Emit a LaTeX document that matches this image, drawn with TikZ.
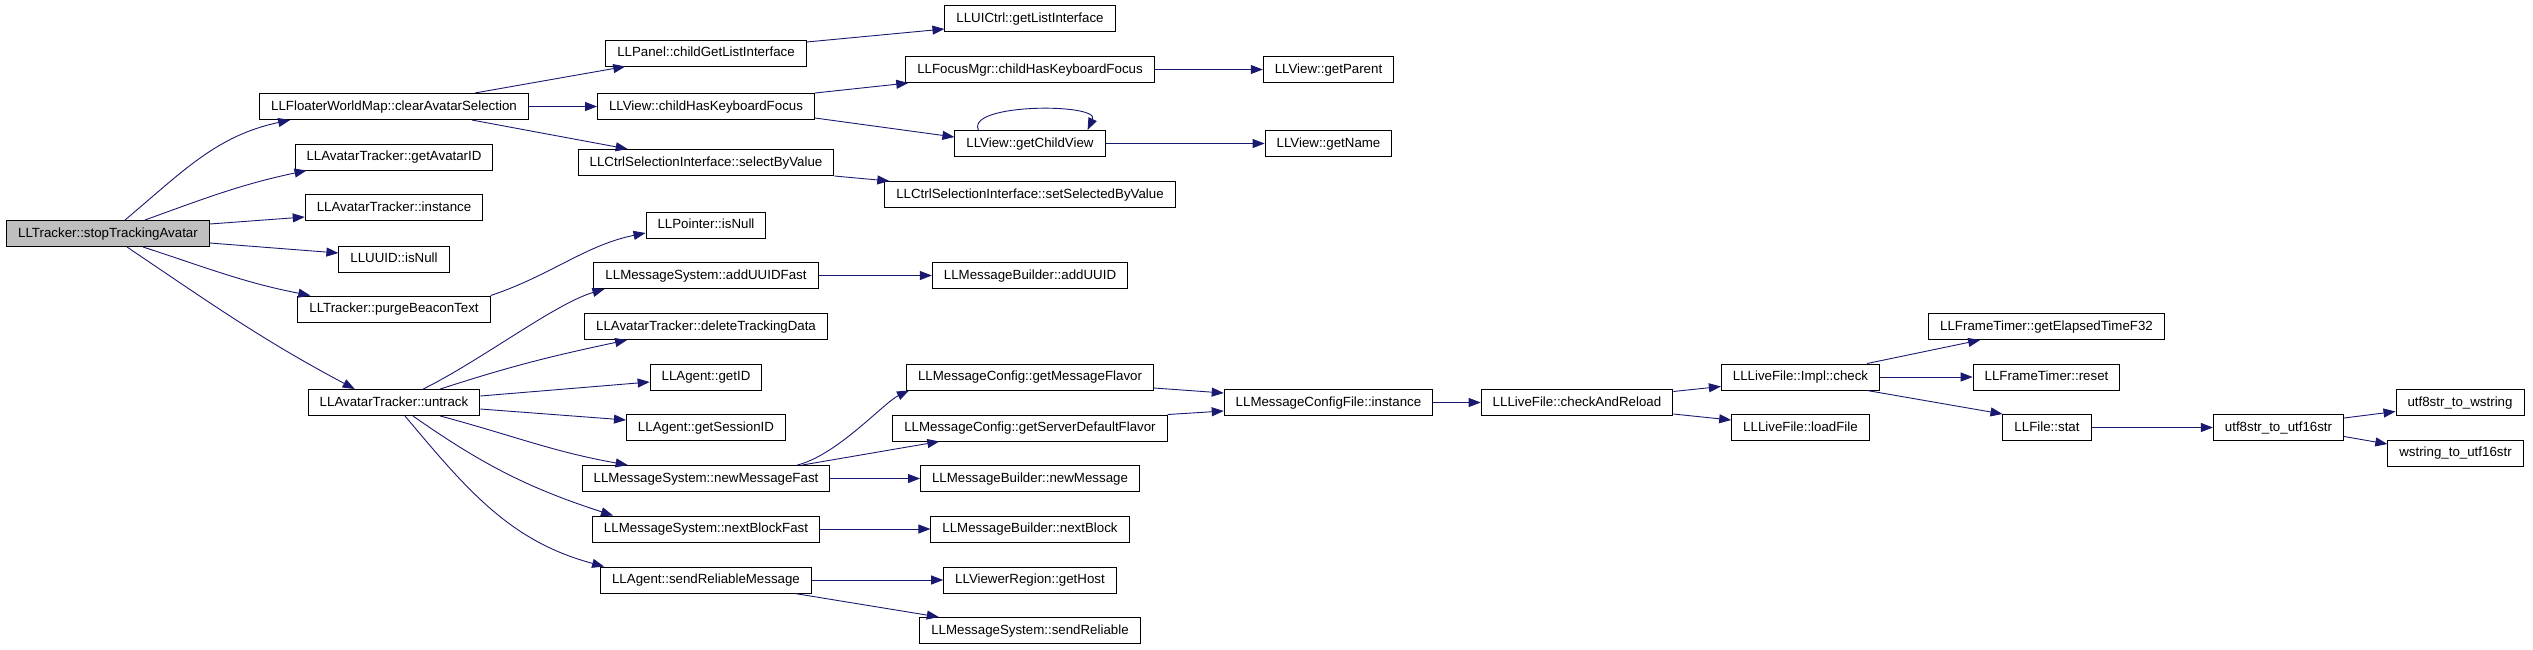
\documentclass[tikz,border=0pt]{standalone}
\usepackage{fontspec}
\setmainfont{Liberation Sans}
\usetikzlibrary{arrows.meta}

\definecolor{edgeblue}{RGB}{25,25,112}
\definecolor{rootgray}{RGB}{191,191,191}

\tikzset{
  funcbox/.style={draw=black,line width=1pt,fill=white,minimum height=26pt,inner xsep=11.5pt,inner ysep=0pt,
    text height=9.6pt,text depth=2.6pt,font=\fontsize{13.3}{15}\selectfont},
  rootbox/.style={funcbox,fill=rootgray},
  callarrow/.style={draw=edgeblue,line width=0.9pt,-{Triangle[length=12pt,width=9pt]}}
}

\begin{document}
\begin{tikzpicture}[x=1pt,y=1pt]
  \useasboundingbox (0,0) rectangle (2533,-649);
  % root
  \node[rootbox] (stop) at (108,-233.5) {LLTracker::stopTrackingAvatar};
  % first column
  \node[funcbox] (clear) at (394,-106.5) {LLFloaterWorldMap::clearAvatarSelection};
  \node[funcbox] (avatarID) at (394,-157) {LLAvatarTracker::getAvatarID};
  \node[funcbox] (avInstance) at (394,-207.5) {LLAvatarTracker::instance};
  \node[funcbox] (uuidNull) at (394,-259) {LLUUID::isNull};
  \node[funcbox] (purge) at (394,-309) {LLTracker::purgeBeaconText};
  \node[funcbox] (untrack) at (394,-402.5) {LLAvatarTracker::untrack};
  % second column
  \node[funcbox] (panelList) at (706,-53) {LLPanel::childGetListInterface};
  \node[funcbox] (viewFocus) at (706,-106.5) {LLView::childHasKeyboardFocus};
  \node[funcbox] (selectValue) at (706,-162.5) {LLCtrlSelectionInterface::selectByValue};
  \node[funcbox] (ptrNull) at (706,-225) {LLPointer::isNull};
  \node[funcbox] (addUUIDFast) at (706,-275.5) {LLMessageSystem::addUUIDFast};
  \node[funcbox] (deleteData) at (706,-326.5) {LLAvatarTracker::deleteTrackingData};
  \node[funcbox] (agentID) at (706,-377) {LLAgent::getID};
  \node[funcbox] (sessionID) at (706,-427.5) {LLAgent::getSessionID};
  \node[funcbox] (newMsgFast) at (706,-478.5) {LLMessageSystem::newMessageFast};
  \node[funcbox] (nextBlockFast) at (706,-529) {LLMessageSystem::nextBlockFast};
  \node[funcbox] (sendRelMsg) at (706,-580) {LLAgent::sendReliableMessage};
  % third column
  \node[funcbox] (listIface) at (1030,-18.5) {LLUICtrl::getListInterface};
  \node[funcbox] (focusMgr) at (1030,-69.5) {LLFocusMgr::childHasKeyboardFocus};
  \node[funcbox] (childView) at (1030,-143.5) {LLView::getChildView};
  \node[funcbox] (setSelected) at (1030,-194.5) {LLCtrlSelectionInterface::setSelectedByValue};
  \node[funcbox] (addUUID) at (1030,-275.5) {LLMessageBuilder::addUUID};
  \node[funcbox] (msgFlavor) at (1030,-377) {LLMessageConfig::getMessageFlavor};
  \node[funcbox] (serverFlavor) at (1030,-428) {LLMessageConfig::getServerDefaultFlavor};
  \node[funcbox] (newMsg) at (1030,-478.5) {LLMessageBuilder::newMessage};
  \node[funcbox] (nextBlock) at (1030,-529) {LLMessageBuilder::nextBlock};
  \node[funcbox] (getHost) at (1030,-580) {LLViewerRegion::getHost};
  \node[funcbox] (sendRel) at (1030,-630.5) {LLMessageSystem::sendReliable};
  % fourth column
  \node[funcbox] (getParent) at (1328.5,-69.5) {LLView::getParent};
  \node[funcbox] (getName) at (1328.5,-143.5) {LLView::getName};
  \node[funcbox] (cfgInstance) at (1328.5,-402.5) {LLMessageConfigFile::instance};
  % live file chain
  \node[funcbox] (checkReload) at (1577,-402.5) {LLLiveFile::checkAndReload};
  \node[funcbox] (implCheck) at (1800.5,-377) {LLLiveFile::Impl::check};
  \node[funcbox] (loadFile) at (1800.5,-427.5) {LLLiveFile::loadFile};
  \node[funcbox] (elapsed) at (2046.5,-326.5) {LLFrameTimer::getElapsedTimeF32};
  \node[funcbox] (timerReset) at (2046.5,-377) {LLFrameTimer::reset};
  \node[funcbox] (fileStat) at (2047,-427.5) {LLFile::stat};
  \node[funcbox] (toUtf16) at (2278.5,-427.5) {utf8str\_to\_utf16str};
  \node[funcbox] (toWstring) at (2460,-402.5) {utf8str\_to\_wstring};
  \node[funcbox] (wstrUtf16) at (2455.5,-453) {wstring\_to\_utf16str};

  % straight calls
  \foreach \a/\b in {clear/viewFocus,focusMgr/getParent,childView/getName,addUUIDFast/addUUID,
      newMsgFast/newMsg,nextBlockFast/nextBlock,sendRelMsg/getHost,cfgInstance/checkReload,
      implCheck/timerReset,fileStat/toUtf16}
    \draw[callarrow] (\a) -- (\b);

  % from the root
  \draw[callarrow] ([xshift=17pt]stop.north) to[out=40,in=192] ([xshift=31pt]clear.south west);
  \draw[callarrow] ([xshift=37pt]stop.north) to[out=20,in=192] ([xshift=12pt]avatarID.south west);
  \draw[callarrow] ([yshift=9.5pt]stop.east) -- ([yshift=-9.5pt]avInstance.west);
  \draw[callarrow] ([yshift=-9.5pt]stop.east) -- ([yshift=6pt]uuidNull.west);
  \draw[callarrow] ([xshift=35pt]stop.south) to[out=-18,in=169] ([xshift=13pt]purge.north west);
  \draw[callarrow] ([xshift=19pt]stop.south) to[out=-34,in=152] ([xshift=47pt]untrack.north west);

  % first column
  \draw[callarrow] ([xshift=-54pt]clear.north east) -- ([xshift=20pt]panelList.south west);
  \draw[callarrow] ([xshift=-57pt]clear.south east) -- ([xshift=50pt]selectValue.north west);
  \draw[callarrow] (purge.north east) .. controls +(60,20) and +(-60,-12) .. ([yshift=-8pt]ptrNull.west);
  \draw[callarrow] ([xshift=-57pt]untrack.north east) .. controls +(60,30) and +(-50,-15) .. ([xshift=11pt]addUUIDFast.south west);
  \draw[callarrow] ([xshift=-40pt]untrack.north east) to[out=18,in=192] ([xshift=43pt]deleteData.south west);
  \draw[callarrow] ([yshift=6.5pt]untrack.east) -- ([yshift=-5pt]agentID.west);
  \draw[callarrow] ([yshift=-6.5pt]untrack.east) -- ([yshift=7.5pt]sessionID.west);
  \draw[callarrow] ([xshift=-40pt]untrack.south east) to[out=-15,in=170] ([xshift=46pt]newMsgFast.north west);
  \draw[callarrow] ([xshift=19pt]untrack.south) to[out=-35,in=162] ([xshift=21pt]nextBlockFast.north west);
  \draw[callarrow] ([xshift=11pt]untrack.south) to[out=-50,in=165] ([xshift=4pt]sendRelMsg.north west);

  % second column
  \draw[callarrow] ([yshift=11pt]panelList.east) -- ([yshift=-10.5pt]listIface.west);
  \draw[callarrow] (viewFocus.north east) -- ([xshift=3pt]focusMgr.south west);
  \draw[callarrow] ([yshift=-11.5pt]viewFocus.east) -- ([yshift=6.5pt]childView.west);
  \draw[callarrow] (selectValue.south east) -- ([xshift=5pt]setSelected.north west);
  \draw[callarrow] ([xshift=24pt]childView.north west) to[out=115,in=65,looseness=0.7] ([xshift=-18pt]childView.north east);
  \draw[callarrow] ([xshift=-33pt]newMsgFast.north east) .. controls +(40,10) and +(-25,-12) .. ([xshift=3pt]msgFlavor.south west);
  \draw[callarrow] ([xshift=-28pt]newMsgFast.north east) -- ([xshift=47pt]serverFlavor.south west);
  \draw[callarrow] ([xshift=-17pt]sendRelMsg.south east) -- ([xshift=19.5pt]sendRel.north west);

  % message config
  \draw[callarrow] ([yshift=-11pt]msgFlavor.east) -- ([yshift=9.5pt]cfgInstance.west);
  \draw[callarrow] (serverFlavor.north east) -- ([yshift=-8.5pt]cfgInstance.west);

  % live file
  \draw[callarrow] ([yshift=11pt]checkReload.east) -- ([yshift=-9.5pt]implCheck.west);
  \draw[callarrow] ([yshift=-11.5pt]checkReload.east) -- ([yshift=7.5pt]loadFile.west);
  \draw[callarrow] ([xshift=-13pt]implCheck.north east) -- ([xshift=52pt]elapsed.south west);
  \draw[callarrow] ([xshift=-13pt]implCheck.south east) -- (fileStat.north west);
  \draw[callarrow] ([yshift=9.5pt]toUtf16.east) -- ([yshift=-9pt]toWstring.west);
  \draw[callarrow] ([yshift=-9pt]toUtf16.east) -- ([yshift=9pt]wstrUtf16.west);
\end{tikzpicture}
\end{document}
